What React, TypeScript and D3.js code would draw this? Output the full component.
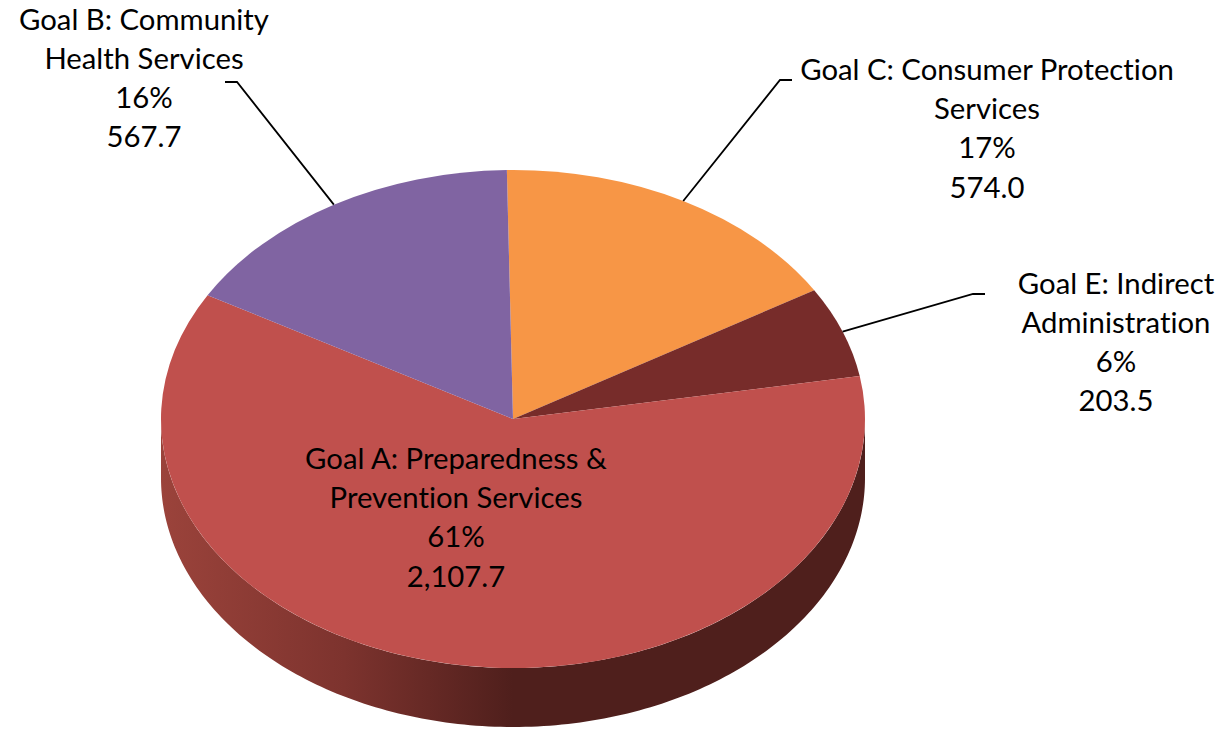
import React from "react";
import * as d3 from "d3";

// slices in drawing order, clockwise from the top of the pie
const goals = ["C", "E", "A", "B"];
const amounts = [574.0, 203.5, 2107.7, 567.7];
const percents = ["17%", "6%", "61%", "16%"];
const amountLabels = ["574.0", "203.5", "2,107.7", "567.7"];
const labelLines = [
	["Goal C: Consumer Protection", "Services"],
	["Goal E: Indirect", "Administration"],
	["Goal A: Preparedness &", "Prevention Services"],
	["Goal B: Community", "Health Services"],
];
const sliceColors = ["#f79646", "#772c2a", "#c0504d", "#8064a2"];

const width = 1222;
const height = 729;
const cx = 513;
const cy = 419;
const rx = 352;
const ry = 249;
const depth = 59;
const fontSize = 29.3;
const lineGap = 39.2;

// label placement: centre x, first baseline
const labelX = [987, 1116, 456, 144];
const labelY = [80, 293.5, 469, 29.5];
// leader elbow and end, null for the label inside the pie
const leaderElbow = [[780, 80], [973, 294], null, [237, 82]];
const leaderEnd = [[792, 80], [985, 294], null, [225, 82]];

const startAngle = (-1 * Math.PI) / 180;

const pie = d3
	.pie<number>()
	.sort(null)
	.startAngle(startAngle)
	.endAngle(startAngle + 2 * Math.PI);

const arc = d3.arc<d3.PieArcDatum<number>>().innerRadius(0).outerRadius(rx);

// front wall of the disc
const wallAngles = d3.range(90, 270.5, 1).map((d) => (d * Math.PI) / 180);
const wall = d3
	.area<number>()
	.x((a) => cx + rx * Math.sin(a))
	.y0((a) => cy - ry * Math.cos(a))
	.y1((a) => cy - ry * Math.cos(a) + depth);

const edgePoint = (a: number) => [cx + rx * Math.sin(a), cy - ry * Math.cos(a)];

export default function App() {
	const slices = pie(amounts);

	return (
		<div style={{ position: "absolute", left: 0, top: 0 }}>
			<svg
				width={width}
				height={height}
				style={{ display: "block", fontVariantLigatures: "none" }}
				fontFamily="Lato, 'Open Sans', sans-serif"
			>
				<defs>
					<linearGradient id="wallFill" gradientUnits="userSpaceOnUse" x1={cx - rx} x2={cx + rx} y1={0} y2={0}>
						<stop offset="0" stopColor="#9b433b" />
						<stop offset="0.26" stopColor="#7d332e" />
						<stop offset="0.5" stopColor="#4f1f1c" />
						<stop offset="1" stopColor="#4f1f1c" />
					</linearGradient>
				</defs>
				<path d={wall(wallAngles) ?? ""} fill="url(#wallFill)" />
				<g transform={`translate(${cx},${cy}) scale(1,${ry / rx})`}>
					{slices.map((d, i) => (
						<path key={goals[i]} d={arc(d) ?? ""} fill={sliceColors[i]} />
					))}
				</g>
				{slices.map((d, i) => {
					const elbow = leaderElbow[i];
					const end = leaderEnd[i];
					if (!elbow || !end) return null;
					const start = edgePoint((d.startAngle + d.endAngle) / 2);
					return (
						<polyline
							key={goals[i]}
							points={[start, elbow, end].map((p) => p.join(",")).join(" ")}
							fill="none"
							stroke="#000"
							strokeWidth={1.8}
						/>
					);
				})}
				{goals.map((g, i) => (
					<text key={g} x={labelX[i]} y={labelY[i]} textAnchor="middle" fontSize={fontSize} fill="#000">
						{[...labelLines[i], percents[i], amountLabels[i]].map((line, j) => (
							<tspan key={j} x={labelX[i]} y={labelY[i] + j * lineGap}>
								{line}
							</tspan>
						))}
					</text>
				))}
			</svg>
		</div>
	);
}
